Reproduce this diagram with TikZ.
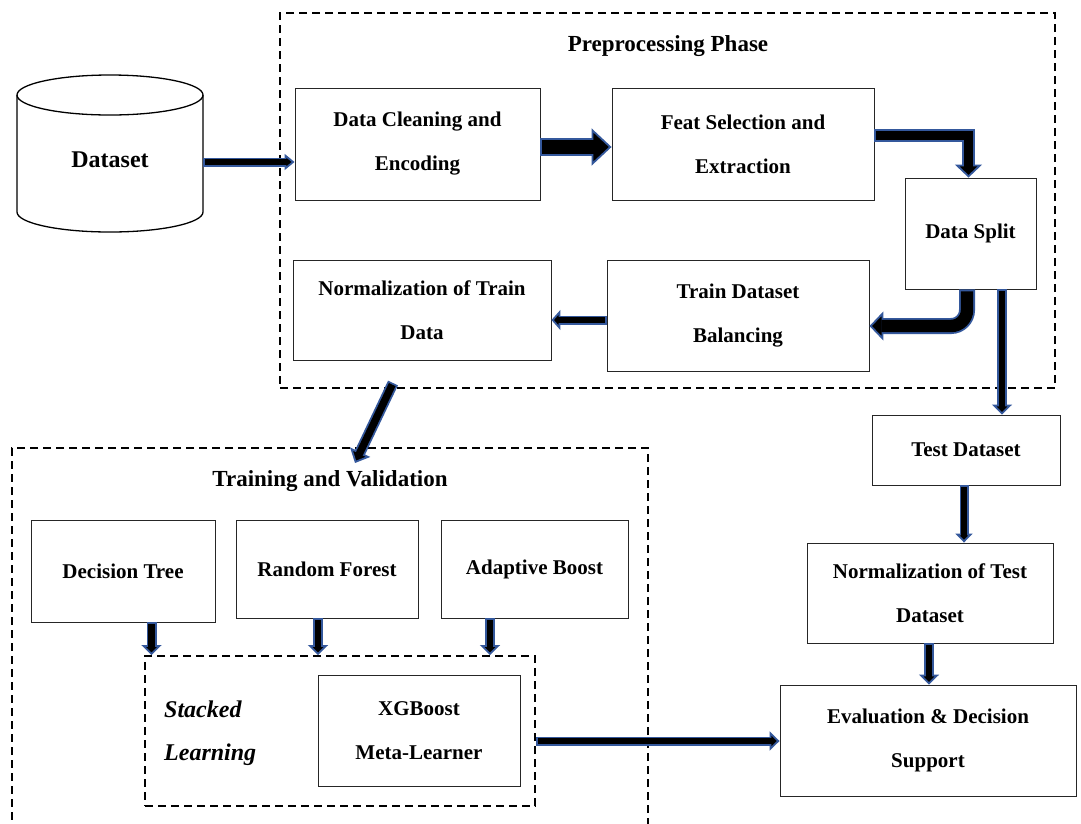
\documentclass[tikz,border=0pt]{standalone}
\usepackage{fontspec}
\setmainfont{Liberation Serif}
\usetikzlibrary{arrows.meta}
\definecolor{ablue}{HTML}{34589C}
\begin{document}
\begin{tikzpicture}[x=1pt,y=-1pt,
  box/.style={draw=black!85, line width=0.9pt, align=center, inner sep=0pt,
    font=\bfseries\fontsize{21}{44}\selectfont},
  dbox/.style={draw, line width=1.9pt, dash pattern=on 8pt off 5pt, inner sep=0pt},
  ttl/.style={font=\bfseries\fontsize{23}{26}\selectfont},
  barrow/.style n args={3}{draw=ablue, line width=#1, line join=miter,
    -{Triangle[length=#3, width=#2, line width=1.8pt, color=ablue, fill=black]},
    postaction={draw=black, line width=#1-3.6pt, -, shorten >=#3-2.2pt, shorten <=1.8pt}}]
\clip (0,0) rectangle (1081,823);
\fill[white] (0,0) rectangle (1081,823);

% dashed phase boxes
\node[dbox, minimum width=775, minimum height=375] (pp) at (667.5,200.5) {};
\node[ttl] (ppt) at (668,46) {Preprocessing Phase};
\node[dbox, minimum width=636, minimum height=392] (tv) at (330,644) {};
\node[ttl] (tvt) at (330,481) {Training and Validation};
\node[dbox, minimum width=390, minimum height=150] (sl) at (340,731) {};
\node[font=\bfseries\itshape\fontsize{24}{43}\selectfont, align=left, anchor=west, inner sep=0pt] (slt) at (164,733) {Stacked\\Learning};

% cylinder
\draw[line width=1.3pt] (17,95) -- (17,212) arc[start angle=180, end angle=0, x radius=93, y radius=20] -- (203,95);
\draw[line width=1.3pt] (110,95) ellipse [x radius=93, y radius=20];
\node[minimum width=186, minimum height=144, inner sep=0pt, font=\bfseries\fontsize{24}{26}\selectfont] (cyl) at (110,160) {Dataset};

% boxes
\node[box, minimum width=245, minimum height=112] (dc) at (417.5,144) {Data Cleaning and\\Encoding};
\node[box, minimum width=262, minimum height=112] (fs) at (743,144) {Feat Selection and\\Extraction};
\node[box, minimum width=131, minimum height=111] (dsp) at (970.5,233.5) {Data Split};
\node[box, minimum width=262, minimum height=111] (tb) at (738,315.5) {Train Dataset\\Balancing};
\node[box, minimum width=258, minimum height=100] (nt) at (422,310) {Normalization of Train\\Data};
\node[box, minimum width=188, minimum height=70] (td) at (966,450) {Test Dataset};
\node[box, minimum width=246, minimum height=100] (nts) at (930,593) {Normalization of Test\\Dataset};
\node[box, minimum width=296, minimum height=111] (ev) at (928,740.5) {Evaluation \& Decision\\Support};
\node[box, minimum width=184, minimum height=102] (dt) at (123,571) {Decision Tree};
\node[box, minimum width=182, minimum height=98] (rf) at (327,569) {Random Forest};
\node[box, minimum width=187, minimum height=98] (ab) at (534.5,569) {Adaptive Boost};
\node[box, minimum width=202, minimum height=111] (xg) at (419,730.5) {XGBoost\\Meta-Learner};

% arrows
\draw[barrow={9pt}{16pt}{10pt}] (cyl.east |- 0,162) -- (dc.west |- 0,162);
\draw[barrow={18pt}{37pt}{20pt}] (dc.east |- 0,147) -- (fs.west |- 0,147);
\draw[barrow={13pt}{27pt}{13pt}] (fs.east |- 0,135.5) -| (968.5,0 |- dsp.north);
\draw[barrow={16pt}{29pt}{14pt}, rounded corners=16pt] (967,0 |- dsp.south) |- (tb.east |- 0,326);
\draw[barrow={10pt}{20pt}{10pt}] (1002,0 |- dsp.south) -- (1002,0 |- td.north);
\draw[barrow={9pt}{20pt}{9pt}] (tb.west |- 0,320) -- (nt.east |- 0,320);
\coordinate (d1) at (393,383);
\coordinate (d2) at (355,463);
\draw[barrow={11pt}{22pt}{12pt}] (d1) -- (d2);
\draw[barrow={9pt}{17pt}{9pt}] (964,0 |- td.south) -- (964,0 |- nts.north);
\draw[barrow={10pt}{20pt}{10pt}] (929,0 |- nts.south) -- (929,0 |- ev.north);
\draw[barrow={10pt}{20pt}{10pt}] (151.5,0 |- dt.south) -- (151.5,0 |- sl.north);
\draw[barrow={10pt}{20pt}{10pt}] (318,0 |- rf.south) -- (318,0 |- sl.north);
\draw[barrow={10pt}{20pt}{10pt}] (490,0 |- ab.south) -- (490,0 |- sl.north);
\draw[barrow={9pt}{19pt}{10pt}] (sl.east |- 0,741) -- (ev.west |- 0,741);
\end{tikzpicture}
\end{document}
